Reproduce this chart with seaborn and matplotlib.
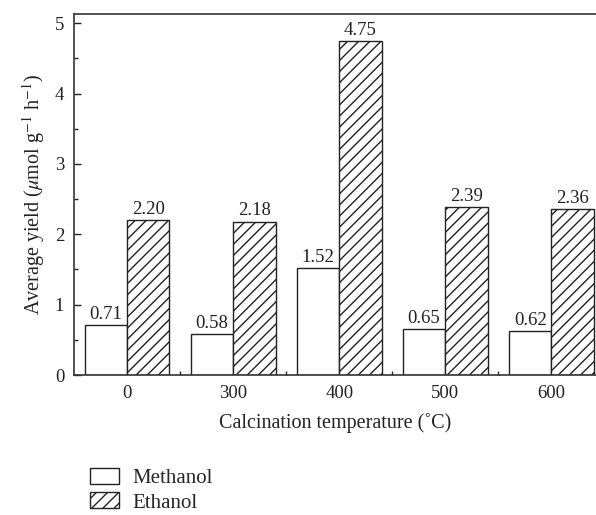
import matplotlib
matplotlib.use("Agg")
import matplotlib.pyplot as plt
import seaborn as sns
import pandas as pd
from matplotlib.ticker import MultipleLocator, FixedLocator
from matplotlib.patches import Patch

categories = ["0", "300", "400", "500", "600"]
methanol = [0.71, 0.58, 1.52, 0.65, 0.62]
ethanol = [2.20, 2.18, 4.75, 2.39, 2.36]
series = ["Methanol", "Ethanol"]

sns.set_theme(style="ticks")
plt.rcParams["font.family"] = ["Liberation Serif", "DejaVu Serif"]
plt.rcParams["mathtext.fontset"] = "stix"
plt.rcParams["font.size"] = 13.5
plt.rcParams["hatch.linewidth"] = 1.0

df = pd.DataFrame({
    "cat": categories * 2,
    "val": methanol + ethanol,
    "series": [series[0]] * len(categories) + [series[1]] * len(categories),
})

fig = plt.figure(figsize=(5.96, 5.15), dpi=100)
ax = fig.add_axes([74 / 596, 1 - 375 / 515, 1 - 74 / 596, (375 - 14) / 515])

sns.barplot(data=df, x="cat", y="val", hue="series", order=categories,
            hue_order=series, palette=["white", "white"], edgecolor="#222222",
            linewidth=1.0, width=0.8, ax=ax, legend=False, errorbar=None,
            saturation=1)

n = len(categories)
for i, p in enumerate(ax.patches[:2 * n]):
    if i >= n:
        p.set_hatch("///")
    p.set_edgecolor("#222222")

vals = methanol + ethanol
for p, v in zip(ax.patches[:2 * n], vals):
    ax.text(p.get_x() + p.get_width() / 2, p.get_height() + 0.03, f"{v:.2f}",
            ha="center", va="bottom", fontsize=13.5, color="#222222")

ax.set_xlim(-0.5, 4.42)
ax.set_ylim(0, 5.13)
ax.yaxis.set_major_locator(MultipleLocator(1))
ax.yaxis.set_minor_locator(MultipleLocator(0.5))
ax.xaxis.set_minor_locator(FixedLocator([0.5, 1.5, 2.5, 3.5]))
ax.tick_params(axis="y", which="both", direction="in", left=True, right=False,
               labelsize=13.5, colors="#222222", pad=7)
ax.tick_params(axis="y", which="major", length=5, width=1)
ax.tick_params(axis="y", which="minor", length=3, width=1)
ax.tick_params(axis="x", which="major", length=0, pad=7, labelsize=13.5,
               colors="#222222")
ax.tick_params(axis="x", which="minor", direction="in", length=3, width=1,
               bottom=True, top=False)

for s in ["top", "left", "bottom"]:
    ax.spines[s].set_visible(True)
    ax.spines[s].set_color("#333333")
    ax.spines[s].set_linewidth(1.2)
ax.spines["right"].set_visible(False)

ax.set_xlabel("Calcination temperature (\u02daC)", fontsize=14.5, color="#222222",
              labelpad=8)
ax.set_ylabel(r"Average yield ($\mu$mol g$^{-1}$ h$^{-1}$)", fontsize=14.5,
              color="#222222", labelpad=6)

handles = [Patch(facecolor="white", edgecolor="#222222", label=series[0]),
           Patch(facecolor="white", edgecolor="#222222", hatch="///", label=series[1])]
fig.legend(handles=handles, loc="upper left",
           bbox_to_anchor=(90 / 596, 1 - 468 / 515), frameon=False,
           fontsize=15, handlelength=1.4, handleheight=0.8, labelspacing=0.2,
           handletextpad=0.65, borderaxespad=0, borderpad=0)

fig.savefig("out.png", dpi=100)
